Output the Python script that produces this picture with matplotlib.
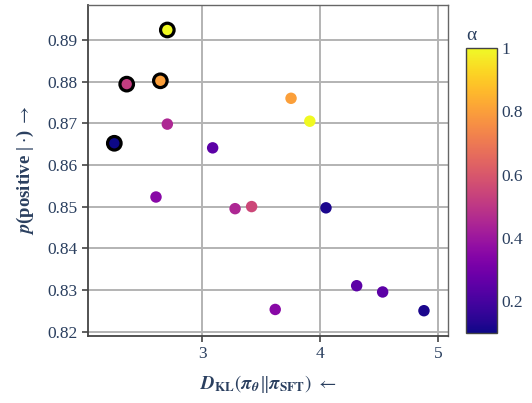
import matplotlib
matplotlib.use("Agg")
import matplotlib.pyplot as plt
import numpy as np

plt.rcParams['font.family'] = ['Liberation Serif', 'DejaVu Serif']
plt.rcParams['mathtext.fontset'] = 'stix'

# KL divergence, reward, alpha, highlighted (best per alpha)
kl = [2.706, 2.362, 2.647, 2.257, 2.706, 2.61, 3.09, 3.28, 3.42, 3.754, 3.913,
      4.05, 3.62, 4.31, 4.53, 4.88]
reward = [0.8924, 0.8794, 0.8802, 0.8652, 0.8698, 0.8523, 0.8641, 0.8495, 0.8500,
          0.8760, 0.8705, 0.8497, 0.8253, 0.8310, 0.8295, 0.8250]
alpha = [1.0, 0.52, 0.8, 0.1, 0.45, 0.35, 0.25, 0.45, 0.55, 0.8, 1.0,
         0.12, 0.35, 0.25, 0.25, 0.12]
outlined = [True, True, True, True, False, False, False, False, False, False, False,
            False, False, False, False, False]

text_col = '#2a3f5f'

fig = plt.figure(figsize=(5.32, 4.03), dpi=100)
ax = fig.add_axes([0.1654, 0.167, 0.677, 0.8206])

kl = np.array(kl)
reward = np.array(reward)
alpha = np.array(alpha)
outlined = np.array(outlined)

plain = ~outlined
sc = ax.scatter(kl[plain], reward[plain], c=alpha[plain], cmap='plasma', vmin=0.1, vmax=1.0,
                s=68, linewidths=0, zorder=3)
ax.scatter(kl[outlined], reward[outlined], c=alpha[outlined], cmap='plasma', vmin=0.1, vmax=1.0,
           s=95, edgecolors='black', linewidths=2.3, zorder=4)

ax.set_xlim(2.034, 5.085)
ax.set_ylim(0.8190, 0.8984)
ax.set_xticks([3, 4, 5])
ax.set_yticks([0.82, 0.83, 0.84, 0.85, 0.86, 0.87, 0.88, 0.89])
ax.grid(True, color='#b3b3b3', linewidth=1.4, zorder=0)
ax.set_axisbelow(True)

for side in ['left', 'bottom']:
    ax.spines[side].set_color('#444444')
    ax.spines[side].set_linewidth(1.3)
for side in ['top', 'right']:
    ax.spines[side].set_color('#666666')
    ax.spines[side].set_linewidth(1.0)

ax.tick_params(axis='both', colors='#444444', labelcolor=text_col, labelsize=12.5,
               length=4, width=1.2)

ax.set_xlabel(r'$\mathbfit{D}_{\mathbf{KL}}(\mathbfit{\pi}_{\mathbfit{\theta}} \| \mathbfit{\pi}_{\mathbf{SFT}})\ \leftarrow$',
              color=text_col, fontsize=13.5, labelpad=8)
ax.set_ylabel(r'$\mathbfit{p}$(positive | $\cdot$) $\rightarrow$', color=text_col, fontsize=13.5,
              fontweight='bold', labelpad=8)

cax = fig.add_axes([0.876, 0.1737, 0.058, 0.707])
cb = fig.colorbar(sc, cax=cax, ticks=[0.2, 0.4, 0.6, 0.8, 1.0])
cb.ax.set_yticklabels(['0.2', '0.4', '0.6', '0.8', '1'])
cb.ax.tick_params(length=0, labelcolor=text_col, labelsize=12.5, pad=3)
cb.outline.set_edgecolor('#444444')
cb.outline.set_linewidth(1.0)
cb.ax.set_title('α', color=text_col, fontsize=14, loc='left', pad=6)

fig.savefig('out.png', dpi=100)
